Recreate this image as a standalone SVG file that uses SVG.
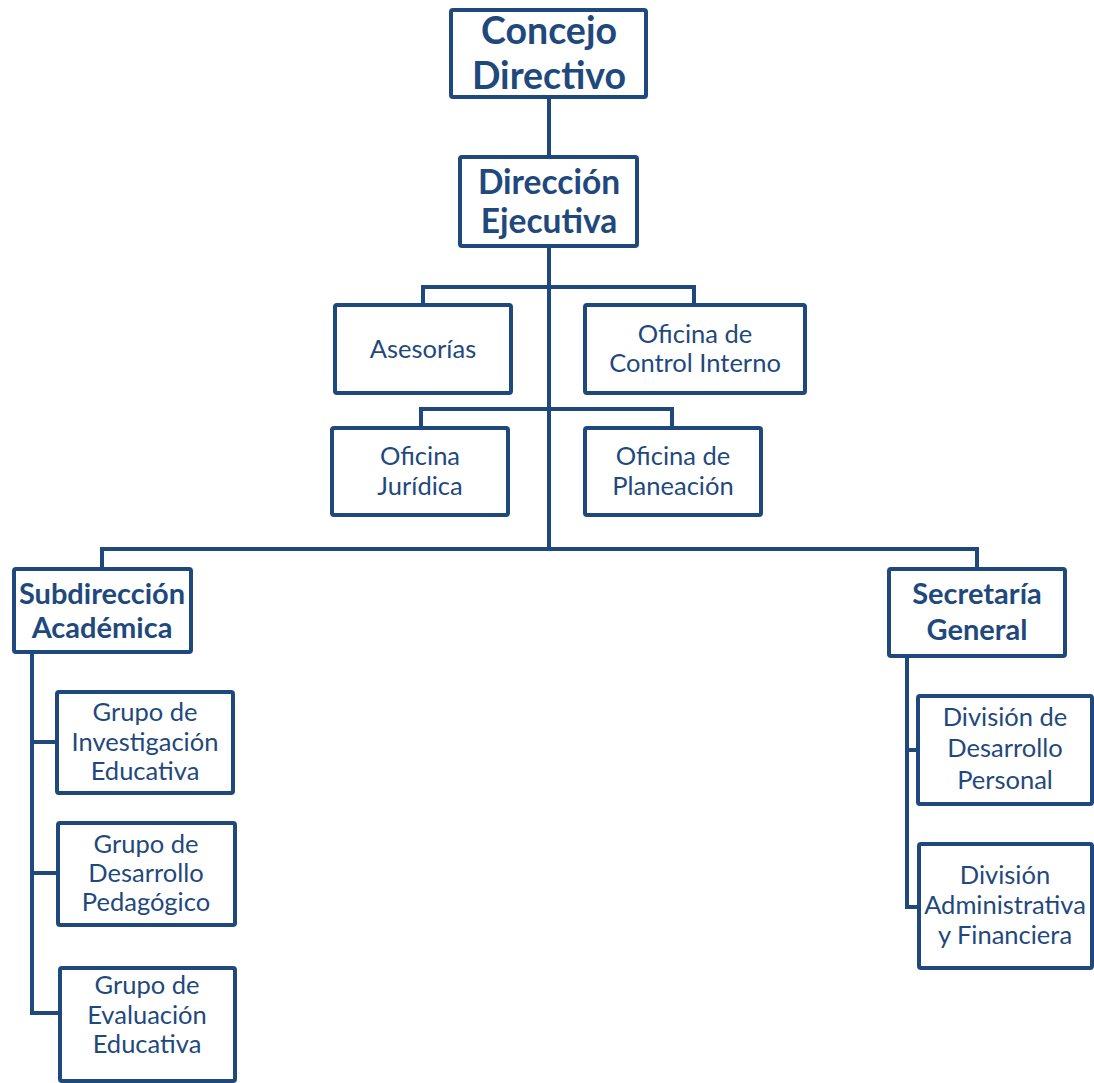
<svg xmlns="http://www.w3.org/2000/svg" width="1094" height="1083" viewBox="0 0 1094 1083">
<style>
.box{fill:#fff;stroke:#1F497D;stroke-width:4;}
.ln{fill:none;stroke:#1F497D;stroke-width:4;stroke-linejoin:miter;}
text{font-family:Lato,"Noto Sans",sans-serif;fill:#1F497D;text-anchor:middle;}
.r{font-size:25.5px;}
.b{font-weight:bold;font-size:29px;}
</style>
<rect width="1094" height="1083" fill="#fff"/>
<g id="connectors">
<path class="ln" d="M549 97 V157"/>
<path class="ln" d="M549 246 V548"/>
<path class="ln" d="M423 305 V287 H694 V305"/>
<path class="ln" d="M421 428 V409 H672 V428"/>
<path class="ln" d="M102 569 V549 H977 V569"/>
<path class="ln" d="M32 652 V1013 H59"/>
<path class="ln" d="M32 742 H57"/>
<path class="ln" d="M32 873 H58"/>
<path class="ln" d="M907 656 V907 H919"/>
<path class="ln" d="M907 750 H918"/>
</g>
<g id="concejo">
<rect class="box" x="451" y="10" width="195" height="87" rx="2"/>
<text x="549" y="44" class="b" style="font-size:37.5px">Concejo</text>
<text x="549" y="89" class="b" style="font-size:37.5px">Directivo</text>
</g>
<g id="direccion">
<rect class="box" x="460" y="157" width="177" height="89" rx="2"/>
<text x="549" y="194" class="b" style="font-size:33.5px">Dirección</text>
<text x="549" y="233" class="b" style="font-size:33.5px">Ejecutiva</text>
</g>
<g id="asesorias">
<rect class="box" x="335" y="305" width="176" height="88" rx="2"/>
<text x="423" y="358" class="r">Asesorías</text>
</g>
<g id="control">
<rect class="box" x="585" y="305" width="220" height="88" rx="2"/>
<text x="695" y="343" class="r">Oficina de</text>
<text x="695" y="372" class="r">Control Interno</text>
</g>
<g id="juridica">
<rect class="box" x="332" y="428" width="176" height="87" rx="2"/>
<text x="420" y="465" class="r">Oficina</text>
<text x="420" y="495" class="r">Jurídica</text>
</g>
<g id="planeacion">
<rect class="box" x="585" y="428" width="176" height="87" rx="2"/>
<text x="673" y="465" class="r">Oficina de</text>
<text x="673" y="495" class="r">Planeación</text>
</g>
<g id="subdireccion">
<rect class="box" x="14" y="569" width="177" height="83" rx="2"/>
<text x="102" y="604" class="b">Subdirección</text>
<text x="102" y="638" class="b">Académica</text>
</g>
<g id="investigacion">
<rect class="box" x="57" y="692" width="176" height="101" rx="2"/>
<text x="145" y="721" class="r">Grupo de</text>
<text x="145" y="751" class="r">Investigación</text>
<text x="145" y="780" class="r">Educativa</text>
</g>
<g id="pedagogico">
<rect class="box" x="58" y="823" width="177" height="102" rx="2"/>
<text x="146" y="853" class="r">Grupo de</text>
<text x="146" y="882" class="r">Desarrollo</text>
<text x="146" y="911" class="r">Pedagógico</text>
</g>
<g id="evaluacion">
<rect class="box" x="60" y="968" width="175" height="113" rx="2"/>
<text x="147" y="994" class="r">Grupo de</text>
<text x="147" y="1024" class="r">Evaluación</text>
<text x="147" y="1053" class="r">Educativa</text>
</g>
<g id="secretaria">
<rect class="box" x="889" y="569" width="176" height="87" rx="2"/>
<text x="977" y="604" class="b">Secretaría</text>
<text x="977" y="640" class="b">General</text>
</g>
<g id="desarrollo-personal">
<rect class="box" x="918" y="696" width="174" height="108" rx="2"/>
<text x="1005" y="726" class="r">División de</text>
<text x="1005" y="757" class="r">Desarrollo</text>
<text x="1005" y="789" class="r">Personal</text>
</g>
<g id="administrativa">
<rect class="box" x="919" y="844" width="173" height="124" rx="2"/>
<text x="1005" y="884" class="r">División</text>
<text x="1005" y="914" class="r">Administrativa</text>
<text x="1005" y="944" class="r">y Financiera</text>
</g>
</svg>
